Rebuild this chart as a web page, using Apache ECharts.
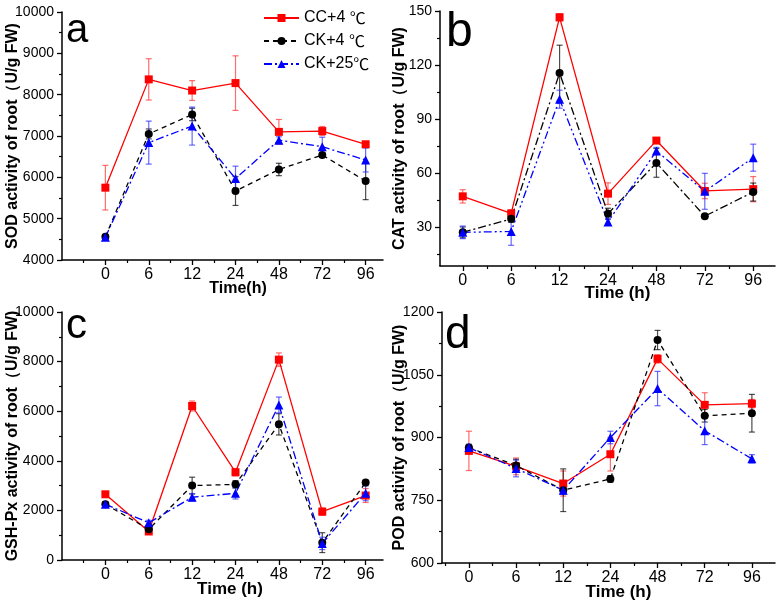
<!DOCTYPE html>
<html><head><meta charset="utf-8">
<script src="https://cdn.jsdelivr.net/npm/echarts@6/dist/echarts.min.js"></script>
<style>html,body{margin:0;padding:0;background:#fff}#c{width:782px;height:605px}</style>
</head><body><div id="c"></div>
<script>
// ---------- data ----------
const timeLabels = ['0', '6', '12', '24', '48', '72', '96'];
const seriesNames = ['CC+4 ℃', 'CK+4 ℃', 'CK+25℃'];

// a: SOD
const sodCC = [5750, 8370, 8100, 8280, 7100, 7120, 6800];
const sodCCErr = [540, 500, 240, 660, 300, 110, 50];
const sodCK4 = [4560, 7050, 7520, 5670, 6190, 6540, 5910];
const sodCK4Err = [50, 120, 150, 350, 150, 50, 450];
const sodCK25 = [4550, 6840, 7240, 5970, 6900, 6740, 6420];
const sodCK25Err = [50, 520, 460, 300, 80, 230, 290];
const sodTicks = [4000, 5000, 6000, 7000, 8000, 9000, 10000];
const sodMinor = [4500, 5500, 6500, 7500, 8500, 9500];

// b: CAT
const catCC = [47, 37.5, 146.5, 48.5, 78, 50, 51];
const catCCErr = [3.7, 2, 2, 6, 1.5, 4.3, 7];
const catCK4 = [27, 34.5, 115.5, 37.4, 65.6, 36, 49.4];
const catCK4Err = [3, 2, 15.5, 3, 8, 1, 5];
const catCK25 = [27, 27.5, 101, 32.8, 72.2, 49.8, 68.5];
const catCK25Err = [3.5, 7.7, 5, 1.5, 2, 10, 7.5];
const catTicks = [30, 60, 90, 120, 150];
const catMinor = [15, 45, 75, 105, 135];

// c: GSH-Px
const gshCC = [2650, 1150, 6210, 3540, 8080, 1950, 2600];
const gshCCErr = [100, 100, 200, 150, 270, 150, 280];
const gshCK4 = [2250, 1240, 3000, 3050, 5470, 700, 3130];
const gshCK4Err = [80, 80, 340, 150, 430, 400, 80];
const gshCK25 = [2250, 1500, 2530, 2690, 6250, 670, 2690];
const gshCK25Err = [100, 100, 150, 230, 320, 250, 300];
const gshTicks = [0, 2000, 4000, 6000, 8000, 10000];
const gshMinor = [1000, 3000, 5000, 7000, 9000];

// d: POD
const podCC = [868, 831, 790, 860, 1088, 978, 981];
const podCCErr = [47, 20, 30, 40, 10, 29, 10];
const podCK4 = [876, 833, 774, 801, 1133, 952, 958];
const podCK4Err = [5, 15, 51, 8, 23, 15, 45];
const podCK25 = [876, 826, 774, 900, 1017, 916, 849];
const podCK25Err = [8, 20, 10, 15, 41, 33, 10];
const podTicks = [600, 750, 900, 1050, 1200];
const podMinor = [675, 825, 975, 1125];

// ---------- styling ----------
const FONT = '"Liberation Sans", Arial, sans-serif';
const CJK = '"Noto Sans CJK SC", sans-serif';
const RED = '#ff0000', BLACK = '#000000', BLUE = '#0000ff';
const RED_E = 'rgba(255,60,60,0.75)', BLACK_E = 'rgba(0,0,0,0.7)', BLUE_E = 'rgba(40,40,255,0.7)';
const DASH = [5, 4], DASHDOT = [8, 3, 2, 3], DASHDOTDOT = [8, 3, 2, 3, 2, 3];

const majorIdx = timeLabels.map((_, i) => i);
const minorIdx = timeLabels.slice(0, -1).map((_, i) => i + 0.5).concat([-0.5]);

const panels = [
  { grid: { left: 62, top: 12, width: 321, height: 248 }, xmin: -1, xmax: 6.4,
    ymin: 4000, ymax: 10000, ticks: sodTicks, minor: sodMinor,
    yName: 'SOD activity of root（U/g FW)', yGap: 41, xName: 'Time(h)', xNameSize: 16, xPad: 31, xGap: 21,
    data: [[sodCC, sodCCErr], [sodCK4, sodCK4Err], [sodCK25, sodCK25Err]], dashes: [DASH, DASHDOT] },
  { grid: { left: 440, top: 11, width: 335, height: 255 }, xmin: -0.47, xmax: 6.45,
    ymin: 8.3, ymax: 150, ticks: catTicks, minor: catMinor,
    yName: 'CAT activity of root（U/g FW)', yGap: 32, xName: 'Time (h)', xNameSize: 17, xPad: 20, xGap: 19,
    data: [[catCC, catCCErr], [catCK4, catCK4Err], [catCK25, catCK25Err]], dashes: [DASHDOT, DASHDOTDOT] },
  { grid: { left: 62, top: 312, width: 321, height: 248 }, xmin: -1, xmax: 6.4,
    ymin: 0, ymax: 10000, ticks: gshTicks, minor: gshMinor,
    yName: 'GSH-Px activity of root（U/g FW)', yGap: 41, xName: 'Time (h)', xNameSize: 17, xPad: 15, xGap: 21,
    data: [[gshCC, gshCCErr], [gshCK4, gshCK4Err], [gshCK25, gshCK25Err]], dashes: [DASH, DASHDOT] },
  { grid: { left: 442, top: 312, width: 333, height: 251 }, xmin: -0.57, xmax: 6.49,
    ymin: 600, ymax: 1200, ticks: podTicks, minor: podMinor,
    yName: 'POD activity of root（U/g FW)', yGap: 34, xName: 'Time (h)', xNameSize: 17, xPad: 20, xGap: 21,
    data: [[podCC, podCCErr], [podCK4, podCK4Err], [podCK25, podCK25Err]], dashes: [DASH, DASHDOT] }
];

const grids = [], xAxes = [], yAxes = [], series = [];
const axisLine = { show: true, onZero: false, lineStyle: { color: '#000', width: 1.5 } };

panels.forEach((p, g) => {
  grids.push(Object.assign({ outerBoundsMode: 'none', containLabel: false }, p.grid));
  const minorX = minorIdx.filter(v => v > p.xmin && v < p.xmax);
  xAxes.push({
    type: 'value', gridIndex: g, min: p.xmin, max: p.xmax, position: 'bottom',
    name: p.xName, nameLocation: 'middle', nameGap: p.xGap, nameMoveOverlap: false,
    nameTextStyle: { fontFamily: FONT, fontWeight: 'bold', fontSize: p.xNameSize, color: '#000', padding: [0, 0, 0, p.xPad] },
    axisLine,
    axisTick: { show: true, customValues: majorIdx, length: 5, lineStyle: { color: '#000', width: 1.3 } },
    axisLabel: { show: true, customValues: majorIdx, formatter: v => timeLabels[Math.round(v)] || '',
      margin: 7, fontSize: 16, color: '#000', fontFamily: FONT },
    splitLine: { show: false }
  });
  xAxes.push({
    type: 'value', gridIndex: g, min: p.xmin, max: p.xmax, position: 'bottom',
    axisLine: { show: false, onZero: false },
    axisTick: { show: true, customValues: minorX, length: 3, lineStyle: { color: '#000', width: 1.2 } },
    axisLabel: { show: false }, splitLine: { show: false }
  });
  yAxes.push({
    type: 'value', gridIndex: g, min: p.ymin, max: p.ymax, position: 'left',
    name: p.yName, nameLocation: 'middle', nameGap: p.yGap, nameMoveOverlap: false,
    nameTextStyle: { fontFamily: FONT, fontWeight: 'bold', fontSize: 16, color: '#000' },
    axisLine,
    axisTick: { show: true, customValues: p.ticks, length: 5, lineStyle: { color: '#000', width: 1.3 } },
    axisLabel: { show: true, customValues: p.ticks, formatter: v => String(v), margin: 8, fontSize: 14, color: '#000', fontFamily: FONT },
    splitLine: { show: false }
  });
  yAxes.push({
    type: 'value', gridIndex: g, min: p.ymin, max: p.ymax, position: 'left',
    axisLine: { show: false, onZero: false },
    axisTick: { show: true, customValues: p.minor, length: 3, lineStyle: { color: '#000', width: 1.2 } },
    axisLabel: { show: false }, splitLine: { show: false }
  });

  const styles = [
    { color: RED, ecolor: RED_E, dash: 'solid', symbol: 'rect', size: 8 },
    { color: BLACK, ecolor: BLACK_E, dash: p.dashes[0], symbol: 'circle', size: 8 },
    { color: BLUE, ecolor: BLUE_E, dash: p.dashes[1], symbol: 'triangle', size: 9 }
  ];
  p.data.forEach((d, k) => {
    const st = styles[k];
    const vals = d[0], errs = d[1];
    series.push({
      type: 'custom', name: seriesNames[k] + ' err' + g, xAxisIndex: 2 * g, yAxisIndex: 2 * g,
      z: 1, silent: true, animation: false,
      data: vals.map((v, i) => [i, v, errs[i]]),
      encode: { x: 0, y: 1 },
      renderItem: function (params, api) {
        const x = api.value(0), y = api.value(1), e = api.value(2);
        const t = api.coord([x, y + e]), b = api.coord([x, y - e]);
        const w = 3, s = { stroke: st.ecolor, lineWidth: 1.2, fill: null };
        return { type: 'group', children: [
          { type: 'line', shape: { x1: t[0], y1: t[1], x2: b[0], y2: b[1] }, style: s },
          { type: 'line', shape: { x1: t[0] - w, y1: t[1], x2: t[0] + w, y2: t[1] }, style: s },
          { type: 'line', shape: { x1: b[0] - w, y1: b[1], x2: b[0] + w, y2: b[1] }, style: s }
        ] };
      }
    });
    series.push({
      type: 'line', name: seriesNames[k], xAxisIndex: 2 * g, yAxisIndex: 2 * g, z: 3,
      data: vals.map((v, i) => [i, v]), symbol: st.symbol, symbolSize: st.size, showSymbol: true,
      itemStyle: { color: st.color }, lineStyle: { color: st.color, width: 1.3, type: st.dash },
      animation: false, silent: true
    });
  });
});

const letterStyle = (fs) => ({ fontSize: fs, fontWeight: 'normal', color: '#000', fontFamily: FONT });
const option = {
  backgroundColor: '#fff',
  animation: false,
  title: [
    { text: 'a', left: 66, top: 11, padding: 0, textStyle: letterStyle(40) },
    { text: 'b', left: 446, top: 9, padding: 0, textStyle: letterStyle(48) },
    { text: 'c', left: 66, top: 305, padding: 0, textStyle: letterStyle(42) },
    { text: 'd', left: 445, top: 312, padding: 0, textStyle: letterStyle(46) }
  ],
  legend: {
    orient: 'vertical', left: 263, top: 10, padding: 0, itemWidth: 35, itemHeight: 10, itemGap: 7,
    data: seriesNames, selectedMode: false,
    formatter: name => name.replace('℃', '{d|℃}'),
    textStyle: { fontSize: 16, color: '#000', fontFamily: FONT,
      rich: { d: { fontSize: 16, color: '#000', fontFamily: CJK } } }
  },
  grid: grids, xAxis: xAxes, yAxis: yAxes, series
};
const chart = echarts.init(document.getElementById('c'), null, { renderer: 'canvas' });
chart.setOption(option);
</script>
</body></html>
